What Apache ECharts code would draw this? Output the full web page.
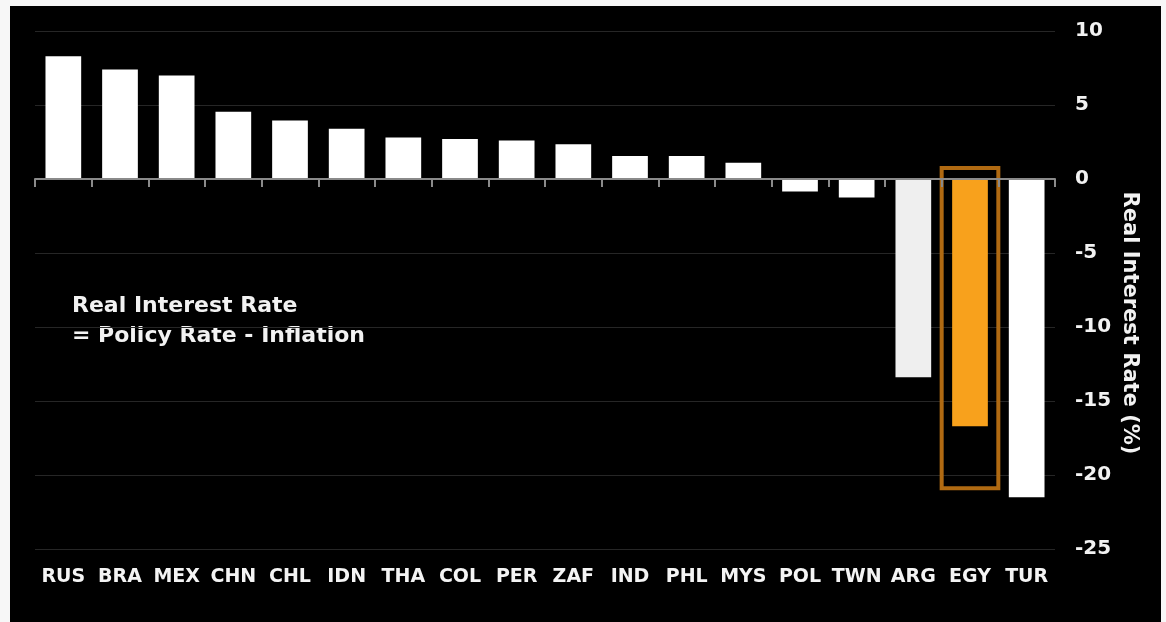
<!DOCTYPE html>
<html>
<head>
<meta charset="utf-8">
<script src="https://cdn.jsdelivr.net/npm/echarts@6/dist/echarts.min.js"></script>
<style>
  html, body { margin: 0; padding: 0; background: #f7f7f7; }
  #chart { width: 1166px; height: 622px; }
</style>
</head>
<body>
<div id="chart"></div>
<script>
// countries, sorted by real interest rate
var countries = ["RUS", "BRA", "MEX", "CHN", "CHL", "IDN", "THA", "COL", "PER",
  "ZAF", "IND", "PHL", "MYS", "POL", "TWN", "ARG", "EGY", "TUR"];
// real interest rate (%) = policy rate - inflation
var realRates = [8.3, 7.4, 7.0, 4.55, 3.95, 3.4, 2.8, 2.7, 2.6,
  2.35, 1.55, 1.55, 1.1, -0.85, -1.25, -13.4, -16.7, -21.5];
var highlight = "EGY";
var greyed = "ARG";
// highlight box range (value axis)
var boxRange = [0.75, -20.9];

var chart = echarts.init(document.getElementById("chart"));

var bars = [];
for (var i = 0; i < countries.length; i++) {
  var c = "#ffffff";
  if (countries[i] === highlight) c = "#f8a11c";
  else if (countries[i] === greyed) c = "#efefef";
  bars.push({ value: realRates[i], itemStyle: { color: c } });
}

var labelFont = "'DejaVu Sans', Verdana, sans-serif";

var option = {
  backgroundColor: "transparent",
  animation: false,
  graphic: [
    {
      type: "rect",
      z: -10,
      shape: { x: 10, y: 6, width: 1151, height: 616 },
      style: { fill: "#000000" }
    },
    {
      type: "text",
      left: 72,
      top: 291,
      style: {
        text: "Real Interest Rate\n= Policy Rate - Inflation",
        fill: "#f2f2f2",
        font: "bold 22px " + labelFont,
        lineHeight: 30
      }
    },
    {
      type: "text",
      x: 1129,
      y: 323,
      rotation: -Math.PI / 2,
      style: {
        text: "Real Interest Rate (%)",
        fill: "#f2f2f2",
        font: "bold 21px " + labelFont,
        align: "center",
        verticalAlign: "middle"
      }
    }
  ],
  grid: { left: 35, right: 111, top: 31, bottom: 73 },
  xAxis: [
    {
      type: "category",
      data: countries,
      axisLine: { onZero: true, lineStyle: { color: "#8a8a8a", width: 2 } },
      axisTick: { show: true, length: 8, lineStyle: { color: "#8a8a8a", width: 2 } },
      axisLabel: { show: false },
      z: 5
    },
    {
      type: "category",
      data: countries,
      position: "bottom",
      axisLine: { show: false, onZero: false },
      axisTick: { show: false },
      axisLabel: {
        color: "#f4f4f4",
        fontFamily: labelFont,
        fontWeight: "bold",
        fontSize: 19,
        margin: 19,
        interval: 0
      }
    }
  ],
  yAxis: {
    type: "value",
    position: "right",
    min: -25,
    max: 10,
    interval: 5,
    axisLine: { show: false },
    axisTick: { show: false },
    splitLine: { lineStyle: { color: "#262626", width: 1 } },
    axisLabel: {
      color: "#f2f2f2",
      fontFamily: labelFont,
      fontWeight: "bold",
      fontSize: 20,
      margin: 20
    }
  },
  series: [
    {
      type: "bar",
      xAxisIndex: 0,
      data: bars,
      barWidth: "63%",
      markArea: {
        silent: true,
        itemStyle: {
          color: "rgba(0,0,0,0)",
          borderColor: "#b06a12",
          borderWidth: 4,
          borderRadius: 2
        },
        data: [[
          { xAxis: highlight, yAxis: boxRange[0] },
          { xAxis: highlight, yAxis: boxRange[1] }
        ]]
      }
    }
  ]
};

chart.setOption(option);
</script>
</body>
</html>
